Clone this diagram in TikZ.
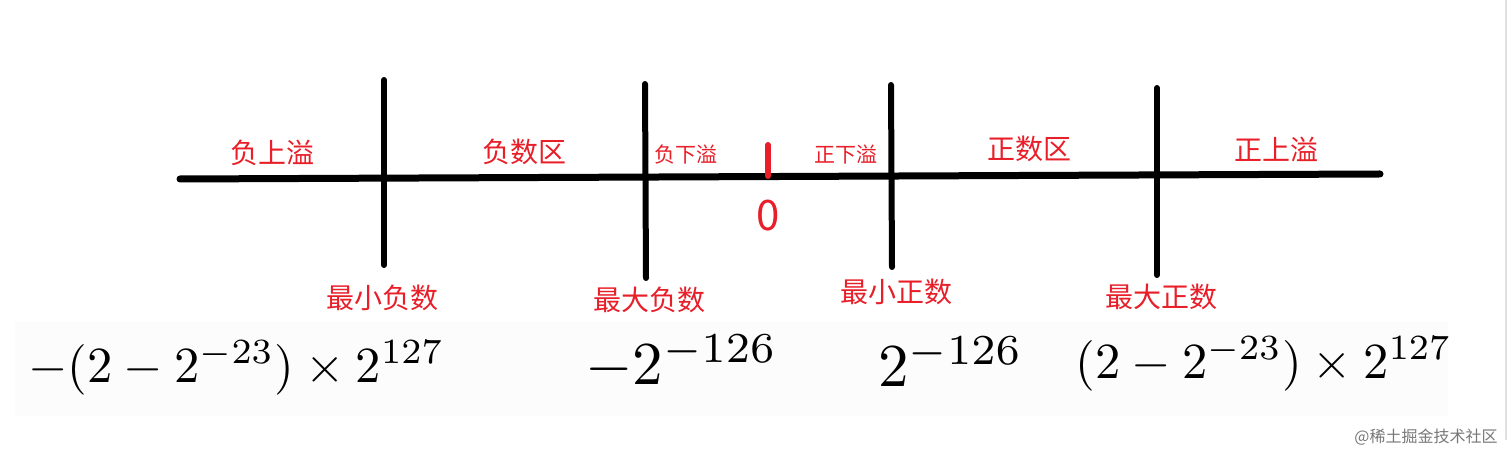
\documentclass[tikz,border=0pt]{standalone}
\usepackage{fontspec}
\newfontfamily\cjk{Noto Sans CJK SC}
\definecolor{lblred}{RGB}{232,30,40}
\definecolor{wmgray}{RGB}{120,120,120}
\begin{document}
\begin{tikzpicture}[x=0.5pt,y=-0.5pt,
  axis/.style={line width=3.5pt,line cap=round,black},
  tickline/.style={line width=3pt,line cap=round,black},
  zerotick/.style={line width=3pt,line cap=round,lblred},
  biglbl/.style={text=lblred,font=\cjk\fontsize{14}{16}\selectfont,inner sep=0pt},
  smalllbl/.style={text=lblred,font=\cjk\fontsize{10.5}{12}\selectfont,inner sep=0pt},
  valuelbl/.style={text=black,inner sep=0pt},
  wmark/.style={text=wmgray,font=\cjk\fontsize{8}{10}\selectfont,inner sep=0pt}]
\useasboundingbox (0,0) rectangle (1512,464);
\fill[white] (0,0) rectangle (1512,464);
\fill[black!1.2] (15,322) rectangle (1448,416);
\draw[black!12,line width=0.6pt] (1506,0) -- (1506,440);
% axis
\coordinate (axL) at (180,179);
\coordinate (axR) at (1380,174);
\draw[axis] (axL) -- (axR);
% vertical separators
\coordinate (v1t) at (384,80);  \coordinate (v1b) at (384,265);
\coordinate (v2t) at (645,84);  \coordinate (v2b) at (646,278);
\coordinate (v3t) at (891,85);  \coordinate (v3b) at (892,267);
\coordinate (v4t) at (1157,88); \coordinate (v4b) at (1157,275);
\draw[tickline] (v1t) -- (v1b);
\draw[tickline] (v2t) -- (v2b);
\draw[tickline] (v3t) -- (v3b);
\draw[tickline] (v4t) -- (v4b);
% zero tick
\coordinate (z0t) at (768,145); \coordinate (z0b) at (768,176);
\draw[zerotick] (z0t) -- (z0b);
\node[text=lblred,font=\cjk\fontsize{21}{22}\selectfont,inner sep=0pt] (zero) at (768,216) {0};
% region labels
\node[biglbl] (nof) at (272,153) {负上溢};
\node[biglbl] (nreg) at (524,152) {负数区};
\node[smalllbl] (nuf) at (686,155) {负下溢};
\node[smalllbl] (puf) at (846,155) {正下溢};
\node[biglbl] (preg) at (1029,149) {正数区};
\node[biglbl] (pof) at (1276,149) {正上溢};
% bound labels
\node[biglbl] (minneg) at (382,298) {最小负数};
\node[biglbl] (maxneg) at (649,300) {最大负数};
\node[biglbl] (minpos) at (896,292) {最小正数};
\node[biglbl] (maxpos) at (1161,297) {最大正数};
% values
\node[valuelbl,anchor=west] (vminneg) at (28,368) {\scalebox{2.53}{$-(2-2^{-23})\times 2^{127}$}};
\node[valuelbl,anchor=west] (vmaxneg) at (585,362) {\scalebox{3.05}{$-2^{-126}$}};
\node[valuelbl,anchor=west] (vminpos) at (878,362) {\scalebox{3.05}{$2^{-126}$}};
\node[valuelbl,anchor=west] (vmaxpos) at (1075,364) {\scalebox{2.53}{$(2-2^{-23})\times 2^{127}$}};
% watermark
\node[wmark] (wm) at (1426,437) {@稀土掘金技术社区};
\end{tikzpicture}
\end{document}
